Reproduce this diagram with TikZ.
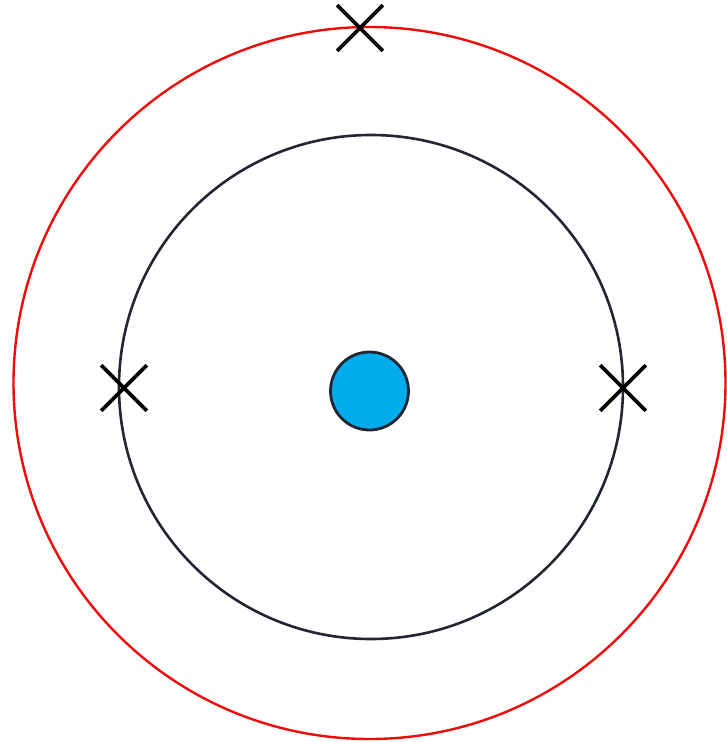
\documentclass[tikz,border=0pt]{standalone}
\usepackage{tikz}
\usepackage{xcolor}
\usetikzlibrary{shapes.misc}
\definecolor{orbitred}{RGB}{240,10,10}
\definecolor{darkline}{RGB}{34,38,52}
\definecolor{nucleusblue}{RGB}{0,172,236}

\begin{document}
\begin{tikzpicture}[x=1pt, y=-1pt,
    orbit/.style={draw, circle, inner sep=0pt},
    crossmark/.style={draw=black, cross out, line width=3.6pt, minimum size=42pt, inner sep=0pt}]
      \useasboundingbox (0,0) rectangle (727,742);
      \node[orbit, draw=orbitred, line width=2.4pt, minimum size=712pt] (outer) at (369.5,383) {};
      \node[orbit, draw=darkline, line width=2.6pt, minimum size=504pt] (inner) at (371,387) {};
      \node[orbit, draw=darkline, fill=nucleusblue, line width=2.8pt, minimum size=78pt] (nucleus) at (369.5,391) {};
      \node[crossmark] (top) at (360,28) {};
      \node[crossmark] (left) at (124,388) {};
      \node[crossmark] (right) at (623,388) {};
    \end{tikzpicture}
\end{document}
